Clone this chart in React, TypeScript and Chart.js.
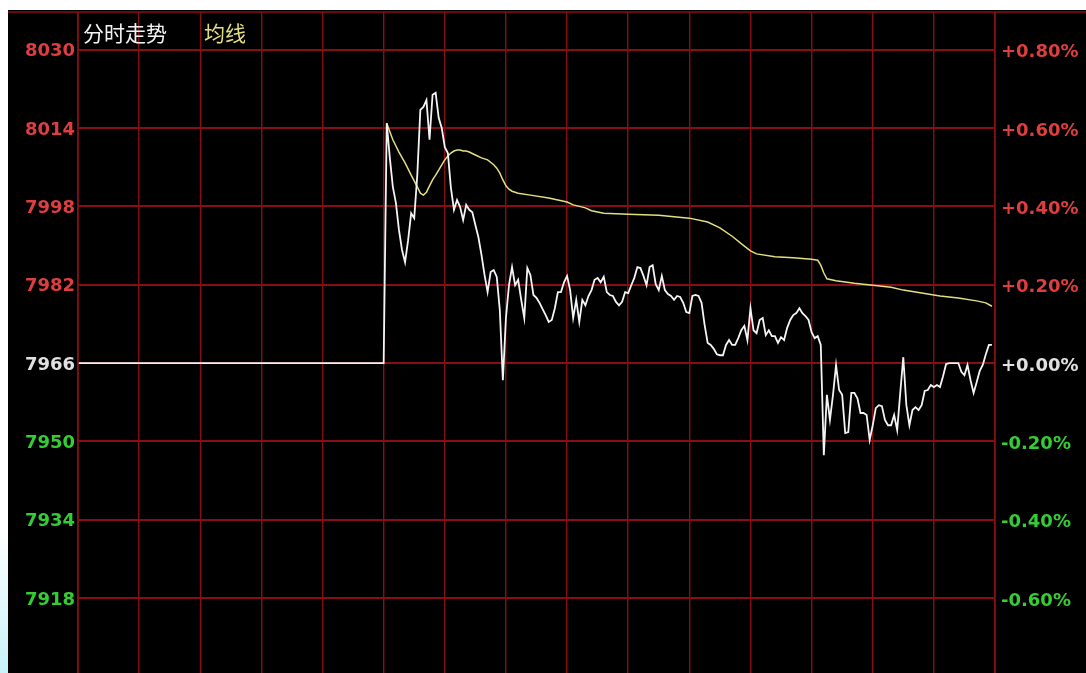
import React, { useEffect, useRef } from 'react';
import { Chart, registerables } from 'chart.js';

Chart.register(...registerables);

// ---------- data ----------
const TITLE_PRICE = '分时走势';
const TITLE_AVG = '均线';
const PREV_CLOSE = 7966;
const Y_TICKS = [7918, 7934, 7950, 7966, 7982, 7998, 8014, 8030];
const Y_MIN = 7902.7;
const Y_MAX = 8037.7;
const SESSION_MINUTES = 300;
const GRID_STEP = 20;
const OPEN_MINUTE = 100;

// one value per minute, from OPEN_MINUTE onward
const PRICES = [
  7966.0, 8015.0, 8008.0, 8002.0, 7998.7, 7993.2, 7989.1, 7986.6, 7991.1, 7996.6,
  7995.6, 8004.4, 8017.7, 8018.3, 8019.7, 8011.6, 8020.8, 8021.2, 8016.1, 8014.0,
  8010.1, 8008.9, 8001.8, 7997.3, 7999.3, 7997.9, 7995.2, 7998.3, 7997.3, 7996.8,
  7994.2, 7991.7, 7988.1, 7984.0, 7980.5, 7984.6, 7985.0, 7983.6, 7976.8, 7962.5,
  7975.2, 7981.9, 7985.6, 7981.9, 7983.0, 7978.9, 7975.2, 7985.4, 7984.0, 7979.9,
  7979.3, 7978.3, 7977.0, 7975.8, 7974.4, 7974.8, 7977.2, 7980.5, 7980.5, 7982.5,
  7983.8, 7980.9, 7975.2, 7978.9, 7974.4, 7978.9, 7977.8, 7979.7, 7980.9, 7983.0,
  7983.4, 7982.5, 7983.6, 7980.5, 7979.9, 7979.7, 7978.5, 7977.8, 7978.5, 7980.5,
  7980.3, 7981.9, 7983.4, 7985.6, 7985.4, 7983.8, 7981.9, 7985.6, 7986.0, 7982.1,
  7980.9, 7983.8, 7980.9, 7980.1, 7979.7, 7978.9, 7979.7, 7979.5, 7978.3, 7976.4,
  7976.2, 7979.7, 7979.9, 7979.7, 7978.3, 7973.8, 7970.1, 7969.7, 7968.9, 7967.8,
  7967.6, 7967.6, 7969.7, 7970.7, 7969.7, 7969.7, 7971.1, 7972.7, 7973.6, 7970.7,
  7977.2, 7972.7, 7972.1, 7974.8, 7975.2, 7971.7, 7972.7, 7971.5, 7971.5, 7970.1,
  7971.3, 7970.7, 7973.2, 7974.8, 7975.8, 7976.2, 7977.2, 7976.2, 7975.6, 7974.8,
  7972.3, 7971.1, 7971.5, 7969.7, 7947.2, 7959.5, 7954.4, 7959.5, 7965.6, 7960.5,
  7959.5, 7951.7, 7951.9, 7959.9, 7959.9, 7958.8, 7955.8, 7955.8, 7955.4, 7950.3,
  7953.3, 7956.8, 7957.4, 7957.2, 7954.4, 7953.3, 7953.3, 7955.4, 7952.3, 7959.9,
  7967.2, 7957.4, 7953.3, 7956.4, 7957.0, 7956.4, 7957.4, 7960.3, 7960.5, 7961.5,
  7961.1, 7961.5, 7961.1, 7963.3, 7965.8, 7966.0, 7966.0, 7966.0, 7966.0, 7964.2,
  7963.5, 7965.6, 7962.5, 7959.9, 7962.1, 7964.4, 7965.6, 7967.8, 7969.7, 7969.7,
];

const AVG_MINUTES = [
  101, 103, 105, 107, 109, 111, 112, 113, 114, 115,
  116, 117, 118, 119, 120, 121, 122, 123, 124, 125,
  126, 127, 128, 130, 132, 134, 136, 137, 138, 139,
  140, 141, 142, 144, 148, 154, 160, 162, 166, 168,
  172, 180, 190, 200, 206, 210, 214, 218, 220, 222,
  228, 234, 240, 242, 243, 244, 245, 248, 254, 260,
  266, 270, 276, 282, 288, 294, 297, 299,
];
const AVG_VALUES = [
  8015.0, 8011.6, 8009.1, 8006.9, 8004.4, 8002.0, 8000.7, 8000.3, 8000.9, 8002.2,
  8003.4, 8004.4, 8005.4, 8006.5, 8007.5, 8008.3, 8008.9, 8009.3, 8009.5, 8009.5,
  8009.3, 8009.3, 8009.1, 8008.5, 8007.9, 8007.5, 8006.5, 8005.8, 8004.8, 8003.4,
  8002.2, 8001.5, 8001.1, 8000.7, 8000.3, 7999.7, 7998.9, 7998.3, 7997.7, 7997.1,
  7996.6, 7996.4, 7996.2, 7995.6, 7994.8, 7993.6, 7991.9, 7989.9, 7988.9, 7988.3,
  7987.7, 7987.5, 7987.2, 7987.0, 7986.0, 7984.4, 7983.2, 7982.8, 7982.3, 7981.9,
  7981.5, 7980.9, 7980.3, 7979.7, 7979.3, 7978.7, 7978.3, 7977.6,
];

// ---------- styles ----------
const BG = '#000000';
const GRID = 'rgb(135, 14, 20)';
const RED = 'rgb(222, 62, 62)';
const GREEN = 'rgb(52, 205, 52)';
const WHITE = 'rgb(225, 225, 225)';
const PRICE_COLOR = '#f4f4f4';
const AVG_COLOR = 'rgb(228, 222, 128)';
const W = 1078;
const H = 663;

function tickColor(v: number) {
  if (v > PREV_CLOSE + 1e-6) return RED;
  if (v < PREV_CLOSE - 1e-6) return GREEN;
  return WHITE;
}

function zeroPad(s: any) {
  s.paddingTop = 0;
  s.paddingBottom = 0;
  s.paddingLeft = 0;
  s.paddingRight = 0;
}

export default function App() {
  const ref = useRef<HTMLCanvasElement>(null);

  useEffect(() => {
    document.body.style.margin = '0';
    document.body.style.overflow = 'hidden';
    const canvas = ref.current;
    if (!canvas) return;

    const priceData = [
      { x: 0, y: PREV_CLOSE },
      ...PRICES.map((v, i) => ({ x: OPEN_MINUTE + i, y: v })),
    ];
    const avgData = AVG_MINUTES.map((m, i) => ({ x: m, y: AVG_VALUES[i] }));

    const bgPlugin = {
      id: 'bg',
      beforeDraw(chart: any) {
        const c = chart.ctx;
        c.save();
        c.fillStyle = BG;
        c.fillRect(0, 0, chart.width, chart.height);
        c.restore();
      },
    };

    const framePlugin = {
      id: 'frame',
      afterDraw(chart: any) {
        const c = chart.ctx;
        const a = chart.chartArea;
        c.save();
        c.strokeStyle = GRID;
        c.lineWidth = 1.6;
        c.beginPath();
        c.moveTo(0, a.top);
        c.lineTo(chart.width, a.top);
        c.moveTo(a.left, a.top);
        c.lineTo(a.left, chart.height);
        c.moveTo(a.right, a.top);
        c.lineTo(a.right, chart.height);
        c.stroke();
        c.textBaseline = 'middle';
        c.textAlign = 'left';
        c.font = '21px "Noto Sans CJK SC", sans-serif';
        c.fillStyle = '#f2f2f2';
        c.fillText(TITLE_PRICE, a.left + 5, a.top + 21);
        c.fillStyle = AVG_COLOR;
        c.fillText(TITLE_AVG, a.left + 126, a.top + 21);
        c.restore();
      },
    };

    const yTicks = (s: any) => {
      s.ticks = Y_TICKS.map((v) => ({ value: v }));
    };
    const labelFont = { family: '"DejaVu Sans", sans-serif', size: 18, weight: 'bold' as const };

    const chart = new Chart(canvas, {
      type: 'line',
      data: {
        datasets: [
          {
            label: TITLE_PRICE,
            data: priceData,
            borderColor: PRICE_COLOR,
            borderWidth: 1.8,
            pointRadius: 0,
            tension: 0,
          },
          {
            label: TITLE_AVG,
            data: avgData,
            borderColor: AVG_COLOR,
            borderWidth: 1.5,
            pointRadius: 0,
            tension: 0,
          },
        ],
      },
      options: {
        responsive: false,
        animation: false,
        devicePixelRatio: 1,
        layout: { padding: { top: 2, left: 0, right: 0, bottom: 0 } },
        plugins: {
          legend: { display: false },
          tooltip: { enabled: false },
          title: { display: false },
        },
        scales: {
          x: {
            type: 'linear',
            min: 0,
            max: SESSION_MINUTES,
            afterBuildTicks: (s: any) => {
              const t = [];
              for (let m = 0; m <= SESSION_MINUTES; m += GRID_STEP) t.push({ value: m });
              s.ticks = t;
            },
            ticks: { display: false },
            grid: { color: GRID, lineWidth: 1.4, drawTicks: false },
            border: { display: false },
            afterFit: (s: any) => {
              s.height = 0;
              zeroPad(s);
            },
          },
          y: {
            position: 'left',
            min: Y_MIN,
            max: Y_MAX,
            afterBuildTicks: yTicks,
            ticks: {
              color: (ctx: any) => tickColor(ctx.tick.value),
              font: labelFont,
              padding: 3,
              labelOffset: 2,
              callback: (v: any) => String(v),
            },
            grid: { color: GRID, lineWidth: 2, drawTicks: false },
            border: { display: false },
            afterFit: (s: any) => {
              s.width = 70;
              zeroPad(s);
            },
          },
          y2: {
            position: 'right',
            min: Y_MIN,
            max: Y_MAX,
            afterBuildTicks: yTicks,
            ticks: {
              color: (ctx: any) => tickColor(ctx.tick.value),
              font: labelFont,
              padding: 6,
              labelOffset: 3,
              callback: (v: any) => {
                const p = ((Number(v) - PREV_CLOSE) / PREV_CLOSE) * 100;
                return (p >= 0 ? '+' : '') + p.toFixed(2) + '%';
              },
            },
            grid: { display: false, drawTicks: false },
            border: { display: false },
            afterFit: (s: any) => {
              s.width = 91;
              zeroPad(s);
            },
          },
        },
      },
      plugins: [bgPlugin, framePlugin],
    } as any);

    return () => chart.destroy();
  }, []);

  return (
    <div>
      <div
        style={{
          position: 'fixed',
          left: 0,
          top: 530,
          width: 8,
          height: 143,
          background: 'linear-gradient(to bottom, #ffffff, #c6f3fa)',
        }}
      />
      <div style={{ position: 'fixed', left: 8, top: 10, width: W, height: H }}>
        <canvas ref={ref} width={W} height={H} style={{ display: 'block', width: W, height: H }} />
      </div>
    </div>
  );
}
